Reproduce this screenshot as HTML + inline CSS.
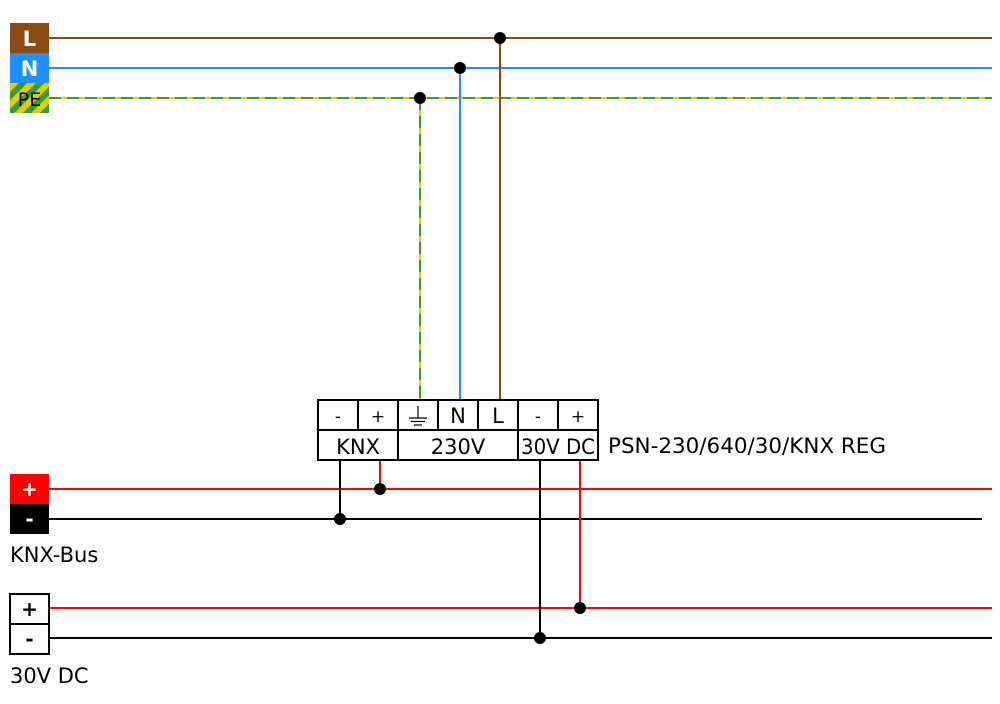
<!DOCTYPE html>
<html><head><style>body{margin:0;background:#fff}</style></head><body>
<svg width="1000" height="699" viewBox="0 0 1000 699" xmlns="http://www.w3.org/2000/svg" font-family="DejaVu Sans, Liberation Sans, sans-serif">
<defs>
<pattern id="pe" width="12" height="12" patternUnits="userSpaceOnUse" patternTransform="rotate(45)">
<rect width="12" height="12" fill="#e0d000"/><rect width="6" height="12" fill="#3a9a3a"/></pattern>
</defs>
<line x1="49" y1="38" x2="992" y2="38" stroke="#8b4a10" stroke-width="2"/>
<line x1="49" y1="68" x2="992" y2="68" stroke="#1e8fff" stroke-width="2"/>
<line x1="49" y1="98" x2="992" y2="98" stroke="#e0d000" stroke-width="2"/>
<line x1="49" y1="98" x2="992" y2="98" stroke="#3a9a3a" stroke-width="2" stroke-dasharray="12,6"/>
<line x1="500" y1="38" x2="500" y2="400" stroke="#8b4a10" stroke-width="2"/>
<line x1="460" y1="68" x2="460" y2="400" stroke="#1e8fff" stroke-width="2"/>
<line x1="420" y1="98" x2="420" y2="400" stroke="#e0d000" stroke-width="2"/>
<line x1="420" y1="98" x2="420" y2="400" stroke="#3a9a3a" stroke-width="2" stroke-dasharray="12,6"/>
<circle cx="500" cy="38" r="6"/><circle cx="460" cy="68" r="6"/><circle cx="420" cy="98" r="6"/>
<rect x="10" y="23" width="39" height="30" fill="#8b4a10"/>
<rect x="10" y="53" width="39" height="30" fill="#1e8fff"/>
<rect x="10" y="83" width="39" height="30" fill="url(#pe)"/>
<text x="29.5" y="46" font-size="21" font-weight="bold" fill="#fff" text-anchor="middle">L</text>
<text x="29.5" y="76" font-size="21" font-weight="bold" fill="#fff" text-anchor="middle">N</text>
<text x="29.5" y="106" font-size="19" fill="#000" text-anchor="middle">PE</text>
<line x1="49" y1="489" x2="992" y2="489" stroke="#f00" stroke-width="2"/>
<line x1="49" y1="519" x2="982" y2="519" stroke="#000" stroke-width="2"/>
<rect x="10" y="474" width="39" height="30" fill="#f00"/>
<rect x="10" y="504" width="39" height="30" fill="#000"/>
<text x="29.5" y="496" font-size="20" font-weight="bold" fill="#fff" text-anchor="middle">+</text>
<text x="29.5" y="526" font-size="20" font-weight="bold" fill="#fff" text-anchor="middle">-</text>
<text x="10" y="562" font-size="21">KNX-Bus</text>
<line x1="49" y1="608" x2="992" y2="608" stroke="#f00" stroke-width="2"/>
<line x1="49" y1="638" x2="992" y2="638" stroke="#000" stroke-width="2"/>
<rect x="10" y="594" width="39" height="30" fill="#fff" stroke="#000" stroke-width="2"/>
<rect x="10" y="624" width="39" height="30" fill="#fff" stroke="#000" stroke-width="2"/>
<text x="29.5" y="616" font-size="20" font-weight="bold" text-anchor="middle">+</text>
<text x="29.5" y="646" font-size="20" font-weight="bold" text-anchor="middle">-</text>
<text x="10" y="683" font-size="21">30V DC</text>
<line x1="340" y1="460" x2="340" y2="519" stroke="#000" stroke-width="2"/>
<line x1="380" y1="460" x2="380" y2="489" stroke="#f00" stroke-width="2"/>
<line x1="540" y1="460" x2="540" y2="638" stroke="#000" stroke-width="2"/>
<line x1="580" y1="460" x2="580" y2="608" stroke="#f00" stroke-width="2"/>
<circle cx="380" cy="489" r="6"/><circle cx="340" cy="519" r="6"/>
<circle cx="580" cy="608" r="6"/><circle cx="540" cy="638" r="6"/>
<g fill="none" stroke="#000" stroke-width="2">
<rect x="318" y="400" width="280" height="60" fill="#fff"/>
<line x1="318" y1="430" x2="598" y2="430"/>
<line x1="358" y1="400" x2="358" y2="430"/>
<line x1="398" y1="400" x2="398" y2="460"/>
<line x1="438" y1="400" x2="438" y2="430"/>
<line x1="478" y1="400" x2="478" y2="430"/>
<line x1="518" y1="400" x2="518" y2="460"/>
<line x1="558" y1="400" x2="558" y2="430"/>
<line x1="418" y1="406" x2="418" y2="418" stroke-width="1.2"/>
<line x1="409" y1="418" x2="427" y2="418" stroke-width="1.2"/>
<line x1="411" y1="421.5" x2="425" y2="421.5" stroke-width="1.2"/>
<line x1="414" y1="425" x2="422" y2="425" stroke-width="1.2"/>
</g>
<g font-size="21" text-anchor="middle">
<text x="338" y="422" font-size="17">-</text><text x="378" y="422" font-size="17">+</text>
<text x="458" y="423">N</text><text x="498" y="423">L</text>
<text x="538" y="422" font-size="17">-</text><text x="578" y="422" font-size="17">+</text>
<text x="358" y="454">KNX</text><text x="458" y="454">230V</text><text x="558" y="454" textLength="74" lengthAdjust="spacingAndGlyphs">30V DC</text>
</g>
<text x="608" y="453" font-size="21" textLength="278" lengthAdjust="spacingAndGlyphs">PSN-230/640/30/KNX REG</text>
</svg>
</body></html>
